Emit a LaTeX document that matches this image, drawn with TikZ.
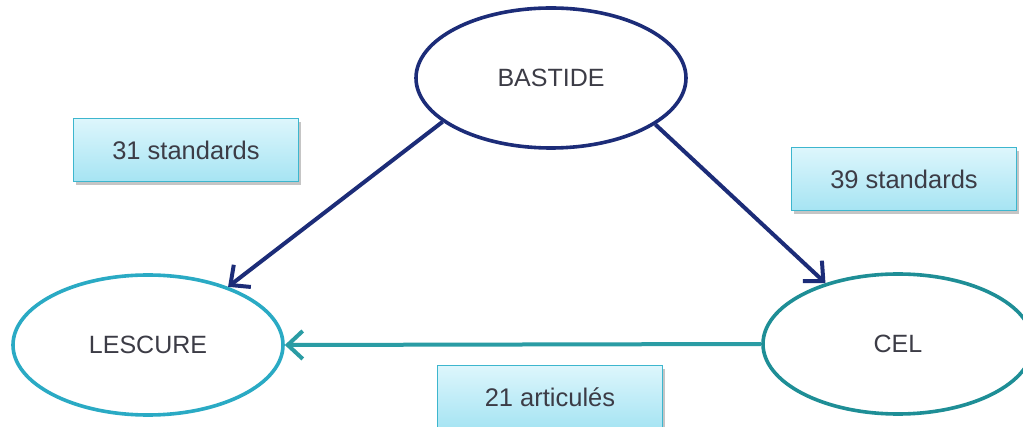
\documentclass[tikz,border=0pt]{standalone}
\usepackage{fontspec}
\setmainfont{Liberation Sans}
\usetikzlibrary{shapes.geometric,arrows.meta,shadows}
\definecolor{navy}{HTML}{1C2C78}
\definecolor{lcyan}{HTML}{2AAAC4}
\definecolor{lteal}{HTML}{1E8E96}
\definecolor{harrow}{HTML}{2A9CA4}
\definecolor{txt}{HTML}{3C3C46}
\definecolor{boxtop}{HTML}{DDF6FC}
\definecolor{boxbot}{HTML}{A6E4F3}
\definecolor{boxline}{HTML}{3DB6CE}
\tikzset{
  oval/.style={ellipse, draw, line width=3.6pt, fill=white, minimum width=270pt, minimum height=140pt, inner sep=0pt, text=txt, font=\fontsize{25}{30}\selectfont},
  labelbox/.style={rectangle, draw=boxline, line width=1.8pt, top color=boxtop, bottom color=boxbot, minimum width=225pt, minimum height=63pt, inner sep=0pt, text=txt, font=\fontsize{25.5}{30}\selectfont, drop shadow={shadow xshift=2pt, shadow yshift=-3.5pt, opacity=0.45, fill=gray}},
  link/.style={line width=4pt, -{Straight Barb[length=15pt, width=28pt, line width=4pt]}}
}
\begin{document}
\begin{tikzpicture}[x=1pt, y=-1pt]
\useasboundingbox (0,0) rectangle (1023,427);
\clip (0,0) rectangle (1023,427);
\fill[white] (0,0) rectangle (1023,427);
\node[oval, draw=navy] (bastide) at (551,78) {BASTIDE};
\node[oval, draw=lcyan] (lescure) at (148,345) {LESCURE};
\node[oval, draw=lteal] (cel) at (898,344) {CEL};
\node[labelbox] (b31) at (186,150) {31 standards};
\node[labelbox] (b39) at (904,179) {39 standards};
\node[labelbox] (b21) at (550,397) {21 articulés};
\draw[link, navy] (bastide.202) -- (lescure.36);
\draw[link, navy] (bastide.336) -- (cel.140);
\draw[link, harrow] (cel.west) -- (lescure.east);
\end{tikzpicture}
\end{document}
